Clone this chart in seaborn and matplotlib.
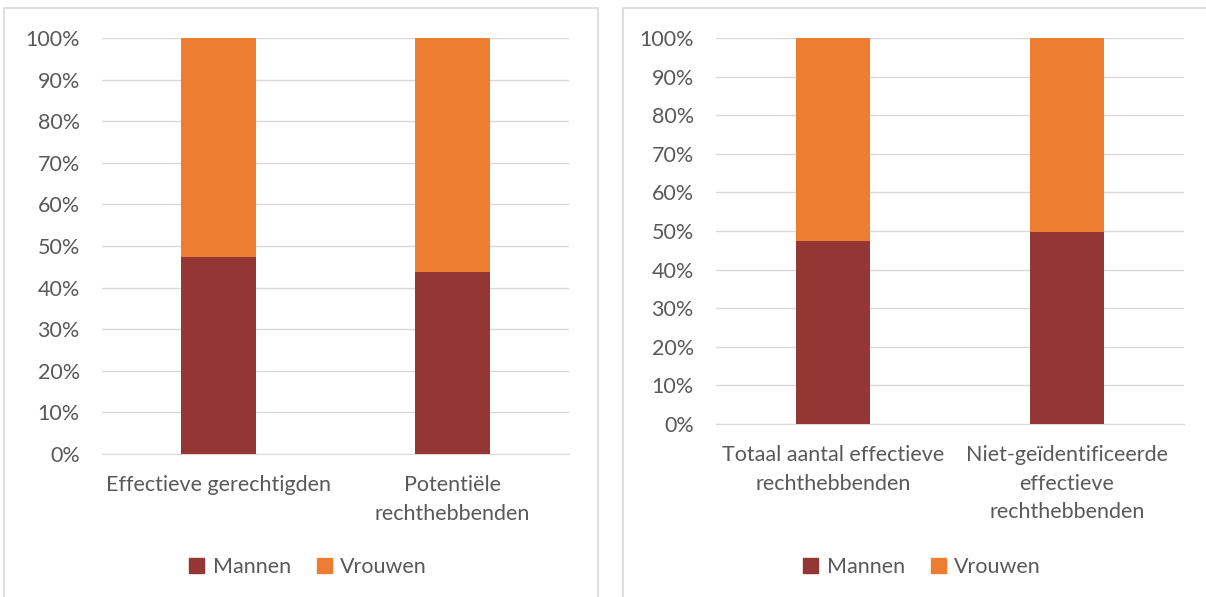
import matplotlib.pyplot as plt
import matplotlib.patches as mpatches
import seaborn as sns
import pandas as pd

# values (share in %)
left_categories = ['Effectieve gerechtigden', 'Potentiële\nrechthebbenden']
left_mannen = [47.4, 43.8]
left_vrouwen = [52.6, 56.2]

right_categories = ['Totaal aantal effectieve\nrechthebbenden',
                    'Niet-geïdentificeerde\neffectieve\nrechthebbenden']
right_mannen = [47.5, 49.7]
right_vrouwen = [52.5, 50.3]

series_labels = ['Mannen', 'Vrouwen']
colors = ['#943634', '#ED7D31']
text_color = '#595959'
grid_color = '#d9d9d9'

sns.set_style('white')
plt.rcParams['font.family'] = ['Lato', 'DejaVu Sans']

W, H = 1206, 597
fig = plt.figure(figsize=(W / 100, H / 100), dpi=100)


def px_axes(x0, y_top, x1, y_bottom):
    return fig.add_axes([x0 / W, 1 - y_bottom / H, (x1 - x0) / W, (y_bottom - y_top) / H])


def draw_panel(ax, categories, mannen, vrouwen):
    df = pd.DataFrame({'cat': categories, 'mannen': mannen,
                       'totaal': [m + v for m, v in zip(mannen, vrouwen)]})
    sns.barplot(data=df, x='cat', y='totaal', color=colors[1], width=0.32,
                linewidth=0, saturation=1, ax=ax, zorder=3)
    sns.barplot(data=df, x='cat', y='mannen', color=colors[0], width=0.32,
                linewidth=0, saturation=1, ax=ax, zorder=3)
    ax.set_xlim(-0.5, 1.5)
    ax.set_ylim(0, 100)
    ax.set_yticks(range(0, 101, 10))
    ax.set_yticklabels([f'{v}%' for v in range(0, 101, 10)])
    ax.yaxis.grid(True, color=grid_color, linewidth=1, zorder=0)
    ax.set_axisbelow(True)
    for s in ax.spines.values():
        s.set_visible(False)
    ax.spines['bottom'].set_visible(True)
    ax.spines['bottom'].set_color(grid_color)
    ax.set_xlabel('')
    ax.set_ylabel('')
    ax.tick_params(axis='both', length=0, labelsize=15.5, labelcolor=text_color)
    ax.tick_params(axis='y', pad=16)
    ax.tick_params(axis='x', pad=15)
    for lbl in ax.get_xticklabels():
        lbl.set_linespacing(1.55)


ax1 = px_axes(102, 38, 569, 454)
draw_panel(ax1, left_categories, left_mannen, left_vrouwen)

ax2 = px_axes(716, 38, 1184, 424)
draw_panel(ax2, right_categories, right_mannen, right_vrouwen)

# panel frames (open at the bottom, cut off by the image edge)
fig.patches.append(mpatches.Rectangle((4 / W, -0.05), 594 / W, 1.05 - 8 / H, transform=fig.transFigure,
                                      fill=False, edgecolor=grid_color, linewidth=1.2))
fig.patches.append(mpatches.Rectangle((623 / W, -0.05), 600 / W, 1.05 - 8 / H, transform=fig.transFigure,
                                      fill=False, edgecolor=grid_color, linewidth=1.2))

handles = [mpatches.Patch(color=c, label=l) for c, l in zip(colors, series_labels)]
for cx in (308, 922):
    fig.legend(handles=handles, loc='center', bbox_to_anchor=(cx / W, 1 - 567 / H), ncol=2,
               frameon=False, fontsize=15.5, labelcolor=text_color, handlelength=0.7,
               handleheight=0.7, handletextpad=0.4, columnspacing=1.2)

fig.savefig('out.png', dpi=100)
